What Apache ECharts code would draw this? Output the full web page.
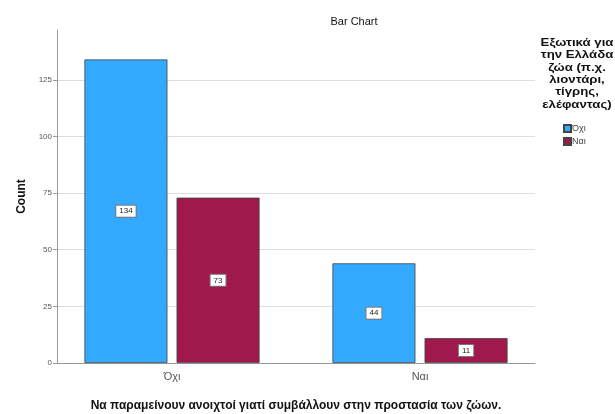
<!DOCTYPE html>
<html>
<head>
<meta charset="utf-8">
<script src="https://cdn.jsdelivr.net/npm/echarts@6/dist/echarts.min.js"></script>
<style>
  html, body { margin: 0; padding: 0; background: #fff; }
  #main { width: 615px; height: 414px; }
</style>
</head>
<body>
<div id="main"></div>
<script>
// data
var categories = ['Όχι', 'Ναι'];
var seriesNames = ['Όχι', 'Ναι'];
var seriesColors = ['#33aaff', '#a0194d'];
var countNo = [134, 44];
var countYes = [73, 11];
var yTicks = [0, 25, 50, 75, 100, 125];
var yMax = 147;

var legendTitle = 'Εξωτικά για\nτην Ελλάδα\nζώα (π.χ.\nλιοντάρι,\nτίγρης,\nελέφαντας)';
var xTitle = 'Να παραμείνουν ανοιχτοί γιατί συμβάλλουν στην προστασία των ζώων.';

var font = '"Liberation Sans", Arial, sans-serif';

var myChart = echarts.init(document.getElementById('main'));

function barLabel() {
  return {
    show: true,
    position: 'inside',
    fontFamily: font,
    fontSize: 8,
    color: '#222',
    backgroundColor: '#fff',
    borderColor: '#777',
    borderWidth: 1,
    padding: [2, 3, 1, 3]
  };
}

myChart.setOption({
  animation: false,
  color: seriesColors,
  title: {
    text: 'Bar Chart',
    left: 349,
    top: 11,
    textAlign: 'center',
    textStyle: { fontFamily: font, fontSize: 11, fontWeight: 'normal', color: '#111' }
  },
  // grid 0: the visible frame (axes, gridlines); grid 1: the bars (SPSS spreads the groups a bit wider)
  grid: [
    { left: 57, right: 80, top: 30, bottom: 51, outerBoundsMode: 'none', containLabel: false },
    { left: 48, right: 71, top: 30, bottom: 51, outerBoundsMode: 'none', containLabel: false }
  ],
  legend: {
    orient: 'vertical',
    left: 563,
    top: 124,
    padding: 0,
    itemWidth: 7,
    itemHeight: 7,
    itemGap: 4,
    icon: 'rect',
    data: seriesNames,
    textStyle: { fontFamily: font, fontSize: 9, color: '#444', padding: [0, 0, 0, -4] }
  },
  graphic: [{
    type: 'text',
    x: 577,
    y: 37,
    scaleX: 1.2,
    style: {
      text: legendTitle,
      font: 'bold 11px ' + font,
      fill: '#111',
      align: 'center',
      lineHeight: 12.3
    }
  }],
  xAxis: [
    {
      gridIndex: 0,
      type: 'category',
      data: categories,
      axisLine: { lineStyle: { color: '#999' } },
      axisTick: { show: false },
      axisLabel: { show: false },
      name: xTitle,
      nameLocation: 'middle',
      nameGap: 37,
      nameTextStyle: { fontFamily: font, fontSize: 12, fontWeight: 'bold', color: '#111' }
    },
    {
      gridIndex: 1,
      type: 'category',
      data: categories,
      axisLine: { show: false },
      axisTick: { show: false },
      axisLabel: { fontFamily: font, fontSize: 11, color: '#555', margin: 8 }
    }
  ],
  yAxis: [
    {
      gridIndex: 0,
      type: 'value',
      min: 0,
      max: yMax,
      interval: 25,
      axisLine: { show: true, lineStyle: { color: '#999' } },
      axisTick: { show: true, length: 4, lineStyle: { color: '#999' }, customValues: yTicks },
      axisLabel: { fontFamily: font, fontSize: 8, color: '#555', margin: 5, customValues: yTicks },
      splitLine: { show: true, lineStyle: { color: '#ddd' } },
      name: 'Count',
      nameLocation: 'middle',
      nameGap: 25,
      nameTextStyle: { fontFamily: font, fontSize: 12, fontWeight: 'bold', color: '#111' }
    },
    {
      gridIndex: 1,
      type: 'value',
      min: 0,
      max: yMax,
      interval: 25,
      show: false
    }
  ],
  series: [
    {
      name: seriesNames[0],
      type: 'bar',
      xAxisIndex: 1,
      yAxisIndex: 1,
      data: countNo,
      barWidth: 83,
      barGap: '11%',
      itemStyle: { color: seriesColors[0], borderColor: '#444', borderWidth: 0.8 },
      label: barLabel()
    },
    {
      name: seriesNames[1],
      type: 'bar',
      xAxisIndex: 1,
      yAxisIndex: 1,
      data: countYes,
      barWidth: 83,
      barGap: '11%',
      itemStyle: { color: seriesColors[1], borderColor: '#444', borderWidth: 0.8 },
      label: barLabel()
    }
  ]
});
</script>
</body>
</html>
